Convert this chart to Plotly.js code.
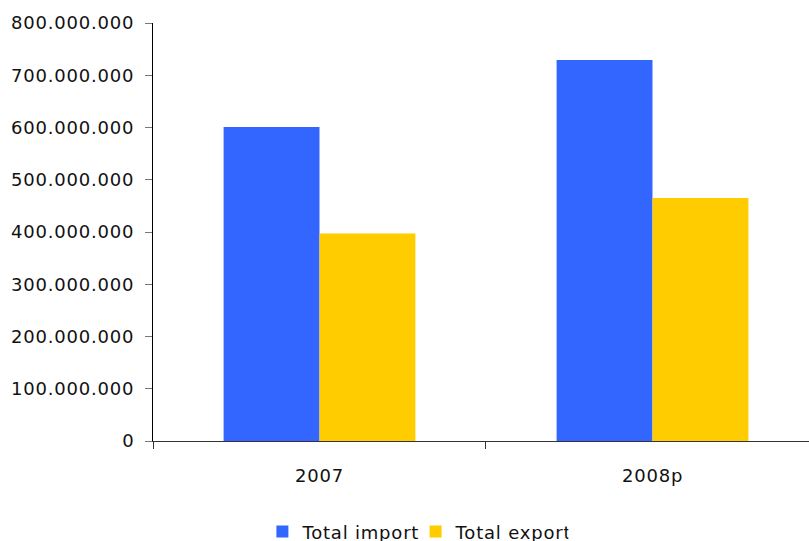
<!DOCTYPE html>
<html>
<head>
<meta charset="utf-8">
<script src="https://cdn.plot.ly/plotly-3.0.1.min.js"></script>
<style>
  html, body { margin: 0; padding: 0; background: #fff; }
  #chart { width: 809px; height: 541px; }
  #chart text { letter-spacing: 0.8px; }
</style>
</head>
<body>
<div id="chart"></div>
<script>
// Trade totals per year
const years = ['2007', '2008p'];
const totalImport = [601000000, 729000000];
const totalExport = [397000000, 465000000];
const seriesNames = ['Total import', 'Total export'];
const yTicks = [0, 100000000, 200000000, 300000000, 400000000, 500000000, 600000000, 700000000, 800000000];

const font = { family: 'DejaVu Sans, Verdana, sans-serif', size: 18, color: '#111' };

const traces = [
  { type: 'bar', name: seriesNames[0], x: years, y: totalImport,
    marker: { color: '#3366FF', line: { width: 0 } } },
  { type: 'bar', name: seriesNames[1], x: years, y: totalExport,
    marker: { color: '#FFCC00', line: { width: 0 } } }
];

const layout = {
  width: 809, height: 541,
  margin: { l: 152.5, r: 0, t: 23, b: 99.5, autoexpand: false },
  paper_bgcolor: '#fff', plot_bgcolor: '#fff',
  separators: ',.',
  font: font,
  barmode: 'group',
  bargap: 0.424,
  bargroupgap: 0,
  showlegend: true,
  legend: {
    orientation: 'h', x: 0.4, xanchor: 'center',
    yref: 'container', y: 0.017, yanchor: 'middle',
    font: font, itemwidth: 30, tracegroupgap: 0
  },
  xaxis: {
    type: 'category',
    range: [-0.5, 1.47],
    automargin: false,
    showline: true, linecolor: '#333', linewidth: 1,
    ticks: 'outside', tickson: 'boundaries', ticklen: 7, tickcolor: '#333', tickwidth: 1,
    ticklabelstandoff: 18,
    showgrid: false, zeroline: false,
    tickfont: font
  },
  yaxis: {
    range: [0, 800000000],
    automargin: false,
    tickvals: yTicks,
    tickformat: ',d',
    showline: true, linecolor: '#000', linewidth: 1,
    ticks: 'outside', ticklen: 7, tickcolor: '#777', tickwidth: 1,
    ticklabelstandoff: 7,
    showgrid: false, zeroline: false,
    tickfont: font
  }
};

Plotly.newPlot('chart', traces, layout, { staticPlot: true, displayModeBar: false });
</script>
</body>
</html>
